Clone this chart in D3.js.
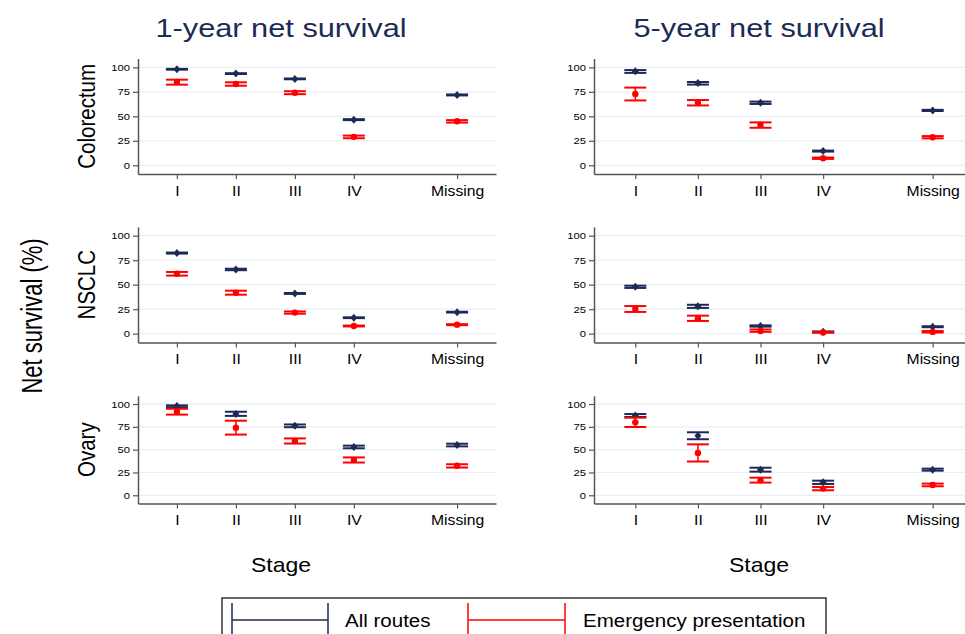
<!DOCTYPE html>
<html>
<head>
<meta charset="utf-8">
<script src="https://cdn.jsdelivr.net/npm/d3@7"></script>
<style>
  html, body { margin: 0; padding: 0; background: #fff; }
  svg { display: block; font-family: "Liberation Sans", Arial, sans-serif; }
</style>
</head>
<body>
<svg id="chart" width="965" height="634"></svg>
<script>
// ---------------- DATA ----------------
const stages = ["I", "II", "III", "IV", "Missing"];
const stagePos = [1, 2, 3, 4, 5.75];
const yTicks = [0, 25, 50, 75, 100];
const cancers = ["Colorectum", "NSCLC", "Ovary"];
const horizons = ["1-year net survival", "5-year net survival"];
const seriesNames = ["All routes", "Emergency presentation"];

// each entry: [estimate, lower CI, upper CI] by stage
const colorectum1yAll = [[98, 97.6, 98.4], [93.6, 93.2, 94.0], [88.2, 87.8, 88.6], [46.6, 46.1, 47.1], [71.8, 71.3, 72.3]];
const colorectum1yEP  = [[85, 82.3, 87.4], [83, 81.2, 84.7], [74, 72.6, 75.6], [29, 27.6, 30.3], [45, 43.6, 46.1]];
const colorectum5yAll = [[96, 94.3, 97.2], [84, 82.4, 85.0], [63.8, 62.6, 65.0], [14.5, 14.0, 15.0], [56, 55.4, 56.6]];
const colorectum5yEP  = [[72.8, 66.2, 79.3], [64, 61.1, 66.6], [41.2, 38.3, 43.8], [7.2, 6.5, 7.9], [28.6, 27.5, 29.8]];
const nsclc1yAll = [[82.3, 81.8, 82.8], [65.6, 64.8, 66.3], [41, 40.6, 41.5], [16.3, 15.9, 16.7], [22, 21.6, 22.4]];
const nsclc1yEP  = [[61.2, 59.3, 63.0], [41.8, 39.8, 43.9], [21.5, 20.4, 22.7], [7.8, 7.4, 8.3], [9.2, 8.7, 9.7]];
const nsclc5yAll = [[48, 46.7, 49.0], [27.9, 26.3, 29.5], [7.9, 7.2, 8.5], [2.0, 1.7, 2.3], [7.1, 6.6, 7.6]];
const nsclc5yEP  = [[25.2, 22.2, 28.2], [15.6, 13.0, 18.4], [2.8, 1.9, 4.3], [1.2, 0.9, 1.6], [1.8, 1.2, 2.7]];
const ovary1yAll = [[97.8, 96.5, 98.5], [89, 87.0, 91.5], [76.3, 74.6, 77.6], [52.9, 51.5, 54.4], [55.1, 53.6, 56.5]];
const ovary1yEP  = [[91.6, 88.4, 94.8], [74.1, 66.5, 81.7], [59.5, 56.7, 62.3], [38.7, 35.9, 41.5], [32.4, 30.4, 34.0]];
const ovary5yAll = [[87.5, 85.8, 89.0], [65.3, 61.4, 69.0], [28.1, 25.9, 30.2], [14.2, 12.4, 16.0], [28.1, 27.0, 29.2]];
const ovary5yEP  = [[79.9, 74.8, 85.0], [46.4, 37.0, 55.8], [16.4, 13.9, 19.3], [7.3, 5.5, 9.1], [11.3, 9.9, 12.8]];

const panelData = [
  [[colorectum1yAll, colorectum1yEP], [colorectum5yAll, colorectum5yEP]],
  [[nsclc1yAll, nsclc1yEP], [nsclc5yAll, nsclc5yEP]],
  [[ovary1yAll, ovary1yEP], [ovary5yAll, ovary5yEP]]
];

// ---------------- LAYOUT ----------------
const NAVY = "#1c2a56";
const RED = "#ff0000";
const seriesColors = [NAVY, RED];
const colRanges = [[138, 496], [594, 974]];
const rowRanges = [[174.1, 58.5], [342.5, 226.9], [503.5, 395.8]];
const xDomain = [0.34, 6.41];
const yDomain = [-9, 109];
const capW = 22;

const svg = d3.select("#chart");

function stretchText(parent, x, y, str, o) {
  const g = parent.append("g")
    .attr("transform", `translate(${x},${y}) scale(${o.sx || 1},1) rotate(${o.rot || 0})`);
  return g.append("text")
    .attr("text-anchor", o.anchor || "middle")
    .attr("font-size", o.size)
    .attr("fill", o.color || "#000")
    .text(str);
}

// titles
horizons.forEach((h, c) => {
  const cx = c === 0 ? 281 : 759;
  stretchText(svg, cx, 37, h, { size: 25, sx: 1.23, color: NAVY });
  stretchText(svg, cx, 572, "Stage", { size: 20, sx: 1.15 });
});

stretchText(svg, 42, 316, "Net survival (%)", { size: 22, sx: 1.35, rot: -90 });

cancers.forEach((cn, r) => {
  panelData[r].forEach((pair, c) => {
    const x = d3.scaleLinear().domain(xDomain).range(colRanges[c]);
    const y = d3.scaleLinear().domain(yDomain).range(rowRanges[r]);
    const g = svg.append("g");

    // gridlines
    g.selectAll("line.grid").data(yTicks).enter().append("line")
      .attr("x1", x.range()[0]).attr("x2", x.range()[1])
      .attr("y1", d => y(d)).attr("y2", d => y(d))
      .attr("stroke", "#eaf0f5").attr("stroke-width", 1.3);

    // y axis
    const ya = g.append("g").attr("transform", `translate(${x.range()[0]},0)`)
      .call(d3.axisLeft(y).tickValues(yTicks).tickSize(5).tickSizeOuter(0));
    ya.select(".domain").attr("stroke", "#555").attr("stroke-width", 1.5);
    ya.selectAll(".tick line").attr("stroke", "#555").attr("stroke-width", 1.2);
    ya.selectAll(".tick text")
      .attr("font-family", "Liberation Sans, Arial, sans-serif")
      .attr("font-size", 9).attr("fill", "#000")
      .attr("x", -8 / 1.25).attr("dy", "0.35em")
      .attr("transform", "scale(1.25,1)");

    // x axis
    const xa = g.append("g").attr("transform", `translate(0,${y.range()[0]})`)
      .call(d3.axisBottom(x).tickValues(stagePos).tickFormat((d, i) => stages[i]).tickSize(5).tickSizeOuter(0));
    xa.select(".domain").attr("stroke", "#555").attr("stroke-width", 1.5);
    xa.selectAll(".tick line").attr("stroke", "#555").attr("stroke-width", 1.2);
    xa.selectAll(".tick text")
      .attr("font-family", "Liberation Sans, Arial, sans-serif")
      .attr("font-size", 15).attr("fill", "#000")
      .attr("y", 22).attr("dy", 0)
      .attr("transform", "scale(1.05,1)");

    // series
    pair.forEach((vals, s) => {
      const col = seriesColors[s];
      const sg = g.append("g");
      const pts = vals.map((v, i) => ({ pos: stagePos[i], est: v[0], lo: v[1], hi: v[2] }));
      // whiskers
      sg.selectAll("line.w").data(pts).enter().append("line")
        .attr("x1", d => x(d.pos)).attr("x2", d => x(d.pos))
        .attr("y1", d => y(d.lo)).attr("y2", d => y(d.hi))
        .attr("stroke", col).attr("stroke-width", 1.5);
      // caps
      ["lo", "hi"].forEach(k => {
        sg.selectAll("line.c" + k).data(pts).enter().append("line")
          .attr("x1", d => x(d.pos) - capW / 2).attr("x2", d => x(d.pos) + capW / 2)
          .attr("y1", d => y(d[k])).attr("y2", d => y(d[k]))
          .attr("stroke", col).attr("stroke-width", 2);
      });
      // markers
      if (s === 0) {
        sg.selectAll("path.m").data(pts).enter().append("path")
          .attr("d", d => {
            const cx = x(d.pos), cy = y(d.est);
            return `M${cx},${cy - 4}L${cx + 3.5},${cy}L${cx},${cy + 4}L${cx - 3.5},${cy}Z`;
          })
          .attr("fill", col);
      } else {
        sg.selectAll("circle.m").data(pts).enter().append("circle")
          .attr("cx", d => x(d.pos)).attr("cy", d => y(d.est)).attr("r", 3.2)
          .attr("fill", col);
      }
    });

    // row label (left column only)
    if (c === 0) {
      stretchText(svg, 95, y(50), cn, { size: 20.5, sx: 1.2, rot: -90 });
    }
  });
});

// legend
const lg = svg.append("g");
lg.append("rect").attr("x", 222).attr("y", 598).attr("width", 604).attr("height", 50)
  .attr("fill", "none").attr("stroke", "#333").attr("stroke-width", 1.5);
const legendItems = [
  { x1: 232, x2: 328, tx: 345 },
  { x1: 468, x2: 565, tx: 583 }
];
seriesNames.forEach((nm, i) => {
  const it = legendItems[i];
  const col = seriesColors[i];
  lg.append("line").attr("x1", it.x1).attr("x2", it.x2).attr("y1", 620).attr("y2", 620)
    .attr("stroke", col).attr("stroke-width", 1.5);
  [it.x1, it.x2].forEach(xx => {
    lg.append("line").attr("x1", xx).attr("x2", xx).attr("y1", 603).attr("y2", 640)
      .attr("stroke", col).attr("stroke-width", 1.5);
  });
  stretchText(lg, it.tx, 626.5, nm, { size: 19, sx: 1.08, anchor: "start" });
});
</script>
</body>
</html>
